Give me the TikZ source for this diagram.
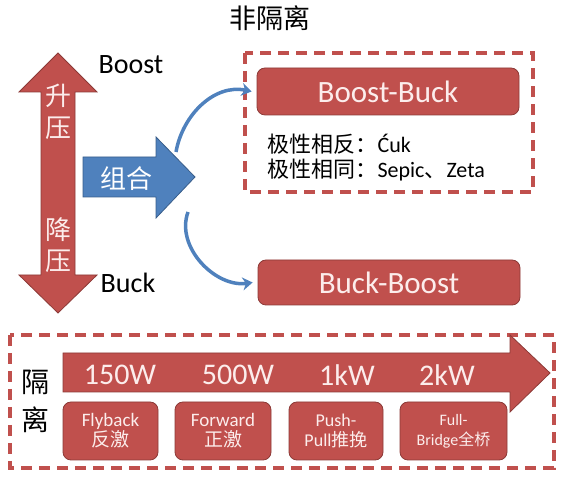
\documentclass[tikz,border=0pt]{standalone}
\usepackage{fontspec}
\setmainfont{Carlito}
\newfontfamily\cjk{Noto Sans CJK SC}
\usetikzlibrary{arrows.meta}
\definecolor{pptred}{HTML}{C0504D}
\definecolor{pptredd}{HTML}{8C3A37}
\definecolor{pptblue}{HTML}{4F81BD}
\definecolor{pptblued}{HTML}{385D8A}
\definecolor{lightpink}{HTML}{FCEDEC}
\tikzset{conv/.style={draw=pptredd,fill=pptred,rounded corners=8pt,line width=0.8pt,text=lightpink,align=center,inner sep=0pt},
  zone/.style={draw=pptred,line width=3.5pt,dash pattern=on 11pt off 7pt},
  curlink/.style={draw=pptblue,line width=3.5pt,-{Stealth[length=10pt,width=13pt]}},
  redarrow/.style={fill=pptred,draw=pptredd,line width=0.8pt}}

\begin{document}
\begin{tikzpicture}[x=1pt,y=1pt]
\useasboundingbox (0,0) rectangle (567,478);
% non-isolated part
\node (title) at (270,460) {\cjk\fontsize{27}{30}\selectfont 非隔离};
\draw[redarrow] (41,386) -- (19,386) -- (58,425) -- (97,386) -- (75,386) -- (75,203) -- (97,203) -- (58,165) -- (19,203) -- (41,203) -- cycle;
\node[text=lightpink,align=center,font=\cjk\fontsize{26}{32}\selectfont] (up) at (58,366) {升\\压};
\node[text=lightpink,align=center,font=\cjk\fontsize{26}{31}\selectfont] (down) at (58,233) {降\\压};
\node[font=\fontsize{28}{30}\selectfont] (boost) at (131,413) {Boost};
\node[font=\fontsize{28}{30}\selectfont] (buck) at (128,195) {Buck};
\draw[fill=pptblue,draw=pptblued,line width=0.8pt] (83,321) -- (156,321) -- (156,341) -- (195,301) -- (156,260) -- (156,281) -- (83,281) -- cycle;
\node[text=white,font=\cjk\fontsize{26}{30}\selectfont] (comb) at (126,299) {组合};
\draw[zone] (245,425) rectangle (533,286);
\node[conv,minimum width=262pt,minimum height=47pt,font=\fontsize{31}{34}\selectfont] (bb) at (388,386.5) {Boost-Buck};
\node[anchor=west,align=left,font=\fontsize{22}{25}\selectfont] (pol) at (264,320.5) {{\cjk 极性相反：}Ćuk\\{\cjk 极性相同：}Sepic{\cjk 、}Zeta};
\node[conv,minimum width=262pt,minimum height=45pt,font=\fontsize{31}{34}\selectfont] (bkb) at (389,195.5) {Buck-Boost};
\coordinate (cu) at (176,326);
\coordinate (cl) at (188,266);
\draw[curlink] (cu) to[out=80,in=168] ([xshift=-5pt]bb.west);
\draw[curlink] (cl) to[out=250,in=188] ([xshift=-5pt]bkb.west);
% isolated part
\draw[zone] (10,143) rectangle (554,10);
\draw[redarrow] (63,125) -- (510,125) -- (510,143) -- (550,105) -- (510,66) -- (510,86) -- (63,86) -- cycle;
\node[align=center,font=\cjk\fontsize{28}{38}\selectfont] (iso) at (35,77) {隔\\离};
\node[text=lightpink,font=\fontsize{30}{32}\selectfont] (p1) at (120,103) {150W};
\node[text=lightpink,font=\fontsize{30}{32}\selectfont] (p2) at (238,103) {500W};
\node[text=lightpink,font=\fontsize{30}{32}\selectfont] (p3) at (347,103) {1kW};
\node[text=lightpink,font=\fontsize{30}{32}\selectfont] (p4) at (447,103) {2kW};
\node[conv,minimum width=95pt,minimum height=58pt,font=\fontsize{19}{20}\selectfont] (fly) at (110.5,47) {Flyback\\{\cjk 反激}};
\node[conv,minimum width=96pt,minimum height=58pt,font=\fontsize{19}{20}\selectfont] (fwd) at (223,47) {Forward\\{\cjk 正激}};
\node[conv,minimum width=94pt,minimum height=58pt,font=\fontsize{18}{20}\selectfont] (pp) at (336,47) {Push-\\Pull{\cjk 推挽}};
\node[conv,minimum width=107pt,minimum height=58pt,font=\fontsize{16}{20}\selectfont] (fb) at (453.5,47) {Full-\\Bridge{\cjk 全桥}};
\end{tikzpicture}
\end{document}
